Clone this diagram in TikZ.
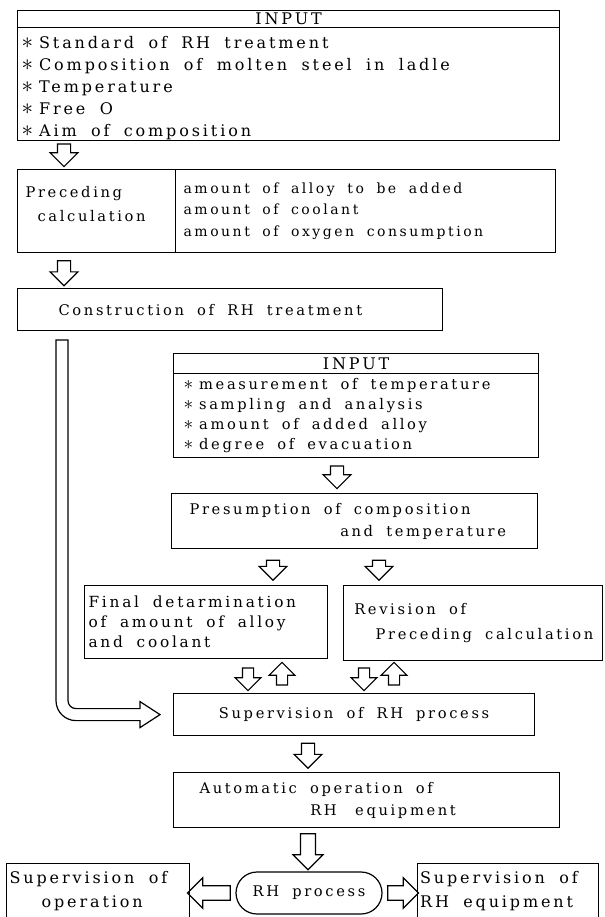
\documentclass[tikz,border=0pt]{standalone}
\usepackage{fontspec}
\setmainfont{DejaVu Serif}[LetterSpace=18, WordSpace=1.8]
\usetikzlibrary{shapes.arrows,shapes.misc,calc}
\newcommand{\rhstar}[1][17]{{\fontsize{#1}{#1}\selectfont$\ast$}\hspace{4.5pt}}

\tikzset{
  box/.style={draw, line width=0.9pt, rectangle, anchor=north west, inner ysep=0pt, align=flush left},
  head/.style={box, align=flush center, inner xsep=0pt, minimum height=12.75pt},
  dnarr/.style={single arrow, draw, line width=0.9pt, fill=white, inner sep=4.5pt,
    shape border rotate=270, minimum width=20pt, minimum height=17pt,
    single arrow head extend=5.5pt},
  uparr/.style={dnarr, shape border rotate=90},
  sidearr/.style={single arrow, draw, line width=0.9pt, fill=white, inner sep=5pt,
    minimum width=22pt, minimum height=#1, single arrow head extend=6pt}
}

\begin{document}
\begin{tikzpicture}[x=0.75pt,y=0.75pt]
\useasboundingbox (0,0) rectangle (604,-917);

% input of the first stage
\node[head, minimum width=406.5pt, text width=406.5pt, font=\fontsize{12}{13}\selectfont] (in1h) at (17,-10) {INPUT};
\node[box, minimum width=406.5pt, minimum height=83.25pt, text width=400.5pt, inner xsep=3pt,
  font=\fontsize{12}{16.5}\selectfont] (in1) at (17,-27)
  {\rule{0pt}{16pt}\rhstar Standard of RH treatment\\ \rhstar Composition of molten steel in ladle\\
   \rhstar Temperature\\ \rhstar Free O\\ \rhstar Aim of composition};
\node[dnarr] (a1) at (64,-152) {};

% preceding calculation
\node[box, minimum width=118.5pt, minimum height=62pt, text width=106.5pt, inner xsep=6pt,
  font=\fontsize{11}{18}\selectfont] (precl) at (17,-169)
  {Preceding\\\hspace*{9pt}calculation\rule[-10pt]{0pt}{0pt}};
\node[box, minimum width=285pt, minimum height=62pt, text width=273pt, inner xsep=6pt,
  font=\fontsize{10.5}{16.1}\selectfont] (precr) at (175,-169)
  {amount of alloy to be added\\amount of coolant\\amount of oxygen consumption};
\node[dnarr, minimum height=18.75pt] (a2) at (64,-270) {};

\node[box, minimum width=318.75pt, minimum height=31.5pt, text width=257.25pt, inner xsep=30.75pt,
  font=\fontsize{11}{17}\selectfont] (constr) at (17,-288) {Construction of RH treatment};

% input during treatment
\node[head, minimum width=273.75pt, text width=273.75pt, minimum height=15pt,
  font=\fontsize{12}{13}\selectfont] (in2h) at (173,-353) {INPUT};
\node[box, minimum width=273.75pt, minimum height=63pt, text width=258.75pt, inner xsep=7.5pt,
  font=\fontsize{11}{15}\selectfont] (in2) at (173,-373)
  {\rhstar[14]measurement of temperature\\ \rhstar[14]sampling and analysis\\
   \rhstar[14]amount of added alloy\\ \rhstar[14]degree of evacuation};
\node[dnarr] (a3) at (337,-474) {};

\node[box, minimum width=274.5pt, minimum height=41.25pt, text width=247.5pt, inner xsep=13.5pt,
  font=\fontsize{11}{16.5}\selectfont] (pres) at (171,-493)
  {Presumption of composition\\\hspace*{113pt}and temperature};
\node[dnarr, minimum height=15pt] (a4l) at (273,-567) {};
\node[dnarr, minimum height=15pt] (a4r) at (379,-567) {};

\node[box, minimum width=182.25pt, minimum height=54.75pt, text width=176.25pt, inner xsep=3pt,
  font=\fontsize{11.5}{15}\selectfont] (final) at (84,-585)
  {Final detarmination\\of amount of alloy\\and coolant};
\node[box, minimum width=194.25pt, minimum height=56.25pt, text width=190.25pt, inner xsep=2pt,
  font=\fontsize{11}{19}\selectfont] (rev) at (343,-585)
  {\hspace*{6pt}Revision of\\\hspace*{22pt}Preceding calculation};

\node[dnarr, minimum width=17pt, inner sep=3.75pt] (a5l) at (248,-676.5) {};
\node[uparr, minimum width=17pt, inner sep=3.75pt] (a6l) at (282,-676.5) {};
\node[dnarr, minimum width=17pt, inner sep=3.75pt] (a5r) at (364,-676.5) {};
\node[uparr, minimum width=17pt, inner sep=3.75pt] (a6r) at (394,-676.5) {};

\node[box, minimum width=270.75pt, minimum height=31.5pt, text width=270.75pt, inner xsep=0pt,
  align=flush center, font=\fontsize{11}{17}\selectfont] (super) at (173,-693) {Supervision of RH process};

% long route from the construction box
\coordinate (ltail) at (62,-340);
\draw[line width=0.9pt, fill=white] ($(ltail)+(-6,0)$) -- ($(ltail |- super.west)+(-6,14)$)
  arc[start angle=180, end angle=270, radius=20] -- ($(super.west)+(-33,-6)$)
  -- ($(super.west)+(-33,-13)$) -- ($(super.west)+(-13,0)$) -- ($(super.west)+(-33,13)$)
  -- ($(super.west)+(-33,6)$) -- ($(ltail |- super.west)+(14,6)$)
  arc[start angle=270, end angle=180, radius=8] -- ($(ltail)+(6,0)$) -- cycle;

\node[dnarr, minimum height=18.75pt] (a7) at (308,-752.5) {};

\node[box, minimum width=270pt, minimum height=41.25pt, text width=250.5pt, inner xsep=19.5pt,
  font=\fontsize{11}{16.5}\selectfont] (auto) at (173,-772)
  {Automatic operation of\\\hspace*{83pt}RH\hspace{4pt} equipment};
\node[dnarr, minimum height=27pt, minimum width=22.5pt, inner sep=5pt] (a8) at (308,-848) {};

% bottom row
\node[draw, line width=0.9pt, rounded rectangle, minimum width=109.5pt, minimum height=31.5pt,
  inner sep=0pt, font=\fontsize{11}{13}\selectfont] (rhp) at (309,-893) {RH process};
\node[sidearr=32pt, shape border rotate=180] (a9) at (212.5,-893) {};
\node[sidearr=23pt] (a10) at (399.5,-893) {};
\node[box, minimum width=137.25pt, minimum height=41.25pt, text width=132.75pt, inner xsep=2.25pt,
  font=\fontsize{12}{18}\selectfont] (supop) at (6,-863) {Supervision of\\\hspace*{24pt}operation};
\node[box, minimum width=135.75pt, minimum height=41.25pt, text width=132pt, inner xsep=1.875pt,
  font=\fontsize{12}{18}\selectfont] (supeq) at (417,-863) {Supervision of\\RH equipment};
\end{tikzpicture}
\end{document}
